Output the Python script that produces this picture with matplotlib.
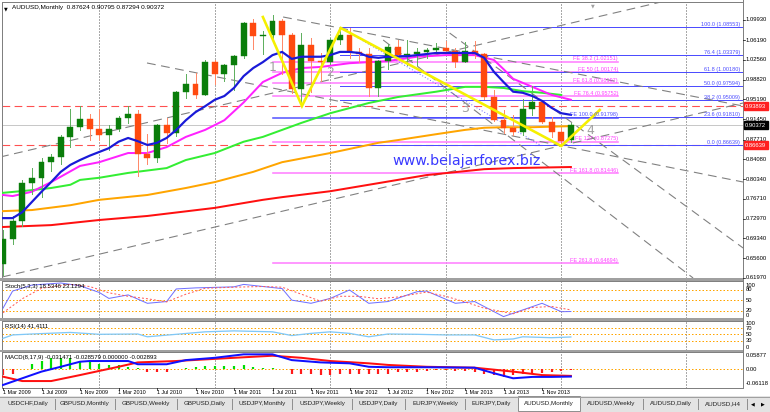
import matplotlib
matplotlib.use('Agg')
import matplotlib.pyplot as plt
import matplotlib.transforms as mtrans
from matplotlib.patches import Rectangle
from matplotlib.lines import Line2D

plt.rcParams['font.family'] = ['Liberation Sans', 'DejaVu Sans']

W, H = 770, 412
fig = plt.figure(figsize=(W / 100, H / 100), dpi=100)
fig.patch.set_facecolor('white')


def axpx(x0, y0, x1, y1, **kw):
    return fig.add_axes([x0 / W, 1 - y1 / H, (x1 - x0) / W, (y1 - y0) / H], **kw)


# ---------------- data (monthly bars, Mar 2009 .. Feb 2014) ----------------
opens = [0.6460, 0.6930, 0.7255, 0.7970, 0.8060, 0.8350, 0.8450, 0.8810, 0.9000, 0.9150,
         0.8975, 0.8850, 0.8975, 0.9170, 0.9250, 0.8510, 0.8430, 0.9040, 0.8890, 0.9660,
         0.9810, 0.9600, 1.0220, 0.9980, 1.0160, 1.0330, 1.0940, 1.0700, 1.0720, 1.0980,
         1.0710, 0.9710, 1.0530, 1.0230, 1.0220, 1.0620, 1.0710, 1.0400, 1.0360, 0.9720,
         1.0230, 1.0500, 1.0340, 1.0370, 1.0400, 1.0440, 1.0470, 1.0410, 1.0220, 1.0410,
         1.0360, 0.9560, 0.9140, 0.8990, 0.8920, 0.9330, 0.9460, 0.9100, 0.8920, 0.87624]
highs = [0.7080, 0.7350, 0.8010, 0.8235, 0.8420, 0.8510, 0.8860, 0.9330, 0.9400, 0.9240,
         0.9330, 0.9040, 0.9200, 0.9400, 0.9320, 0.8880, 0.9060, 0.9170, 0.9680, 0.9990,
         1.0000, 1.0250, 1.0255, 1.0180, 1.0340, 1.0950, 1.1010, 1.0780, 1.1080, 1.1010,
         1.0760, 1.0760, 1.0660, 1.0380, 1.0650, 1.0855, 1.0850, 1.0480, 1.0475, 1.0255,
         1.0550, 1.0620, 1.0620, 1.0480, 1.0480, 1.0560, 1.0600, 1.0480, 1.0580, 1.0600,
         1.0380, 0.9700, 0.9320, 0.9230, 0.9530, 0.9760, 0.9490, 0.9190, 0.8990, 0.90795]
lows = [0.6250, 0.6830, 0.7160, 0.7760, 0.7700, 0.8180, 0.8320, 0.8630, 0.8950, 0.8770,
        0.8770, 0.8580, 0.8930, 0.9080, 0.8090, 0.8320, 0.8360, 0.8700, 0.8830, 0.9540,
        0.9540, 0.9600, 0.9800, 0.9850, 0.9700, 1.0290, 1.0450, 1.0360, 1.0580, 0.9990,
        0.9630, 0.9390, 0.9660, 0.9860, 1.0170, 1.0540, 1.0280, 1.0220, 0.9580, 0.9580,
        1.0080, 1.0330, 1.0150, 1.0150, 1.0280, 1.0380, 1.0380, 1.0120, 1.0220, 1.0290,
        0.9530, 0.9120, 0.8900, 0.8850, 0.8850, 0.9220, 0.9080, 0.8820, 0.8660, 0.87294]
closes = [0.6930, 0.7255, 0.7970, 0.8060, 0.8350, 0.8450, 0.8810, 0.9000, 0.9150, 0.8975,
          0.8850, 0.8975, 0.9170, 0.9250, 0.8510, 0.8430, 0.9040, 0.8890, 0.9660, 0.9810,
          0.9600, 1.0220, 0.9980, 1.0160, 1.0330, 1.0940, 1.0700, 1.0720, 1.0980, 1.0710,
          0.9710, 1.0530, 1.0230, 1.0220, 1.0620, 1.0710, 1.0400, 1.0360, 0.9720, 1.0230,
          1.0500, 1.0340, 1.0370, 1.0400, 1.0440, 1.0470, 1.0410, 1.0220, 1.0410, 1.0360,
          0.9560, 0.9140, 0.8990, 0.8920, 0.9330, 0.9460, 0.9100, 0.8920, 0.8750, 0.90372]

time_labels = ["1 Mar 2009", "1 Jul 2009", "1 Nov 2009", "1 Mar 2010", "1 Jul 2010",
               "1 Nov 2010", "1 Mar 2011", "1 Jul 2011", "1 Nov 2011", "1 Mar 2012",
               "1 Jul 2012", "1 Nov 2012", "1 Mar 2013", "1 Jul 2013", "1 Nov 2013"]
time_label_bars = [0, 4, 8, 12, 16, 20, 24, 28, 32, 36, 40, 44, 48, 52, 56]
year_grid_bars = [10, 22, 34, 46, 58, 71]

price_ticks = [1.09930, 1.06190, 1.02560, 0.98820, 0.95190, 0.91450, 0.87710,
               0.84080, 0.80340, 0.76710, 0.72970, 0.69340, 0.65600, 0.61970]

# moving averages (bar index, price)
ma_blue_i = list(range(60))
ma_blue = [0.731, 0.731, 0.742, 0.761, 0.780, 0.798, 0.817, 0.830, 0.839, 0.847,
           0.854, 0.861, 0.873, 0.880, 0.874, 0.867, 0.871, 0.880, 0.895, 0.913,
           0.928, 0.939, 0.951, 0.958, 0.973, 0.995, 1.010, 1.021, 1.034, 1.040,
           1.027, 1.031, 1.031, 1.031, 1.034, 1.040, 1.040, 1.038, 1.031, 1.029,
           1.031, 1.031, 1.032, 1.034, 1.036, 1.038, 1.038, 1.038, 1.038, 1.038,
           1.029, 1.003, 0.984, 0.966, 0.964, 0.958, 0.949, 0.936, 0.926, 0.923]
ma_mag_i = [0, 1, 3, 5, 8, 10, 13, 15, 17, 19, 21, 23, 25, 27, 29, 31, 33, 36, 40, 43,
            46, 49, 51, 52, 53, 55, 57, 59]
ma_mag = [0.774, 0.772, 0.780, 0.798, 0.828, 0.835, 0.852, 0.852, 0.863, 0.882, 0.895,
          0.913, 0.946, 0.984, 1.001, 1.010, 1.012, 1.019, 1.023, 1.031, 1.034, 1.034,
          1.025, 1.008, 0.990, 0.975, 0.960, 0.951]
ma_grn_i = [0, 3, 5, 7, 8, 10, 13, 17, 19, 22, 25, 27, 31, 34, 38, 41, 45, 48, 50, 52, 54, 56, 58]
ma_grn = [0.778, 0.783, 0.787, 0.793, 0.802, 0.806, 0.815, 0.824, 0.839, 0.852, 0.873,
          0.882, 0.908, 0.926, 0.945, 0.956, 0.966, 0.975, 0.975, 0.973, 0.967, 0.964, 0.960]
ma_org_i = [0, 3, 7, 10, 15, 19, 22, 26, 29, 34, 39, 41, 45, 48, 50, 52, 55, 59]
ma_org = [0.744, 0.746, 0.755, 0.765, 0.774, 0.787, 0.798, 0.817, 0.835, 0.852, 0.871,
          0.876, 0.887, 0.895, 0.899, 0.900, 0.900, 0.902]
ma_red_i = [0, 5, 10, 15, 22, 27, 29, 34, 39, 44, 50, 53, 59]
ma_red = [0.7145, 0.718, 0.7275, 0.735, 0.750, 0.765, 0.770, 0.781, 0.796, 0.811, 0.822,
          0.824, 0.826]

# drawn objects: trend lines (i0, p0, i1, p1)
trend_lines = [(-0.1, 0.6215, 76.9, 0.9450),
               (-0.3, 0.8446, 76.9, 1.1686),
               (14.96, 1.0194, 76.9, 0.7981),
               (29.1, 1.1049, 76.9, 0.9394),
               (39.5, 1.0621, 71.7, 0.6197),
               (46.4, 1.0751, 76.9, 0.6754)]
pitch_line = (35.5, 1.0807, 55.8, 0.8669)
zigzag_i = [27.0, 31.06, 35.1, 58.0, 62.0]
zigzag_p = [1.1049, 0.9394, 1.0844, 0.8651, 0.9320]
wave_labels = ["1", "2", "3", "4"]
wave_i = [28.05, 34.0, 48.0, 61.0]
wave_p = [1.0101, 1.0008, 0.9357, 0.8948]

fib_labels = ["100.0", "76.4", "61.8", "50.0", "38.2", "23.6", "0.0"]
fib_prices = [1.08553, 1.03379, 1.00180, 0.97594, 0.95009, 0.91810, 0.86639]
fib_start = 35.0
fe_labels = ["38.2", "50", "61.8", "76.4", "100.0", "127", "161.8", "261.8"]
fe_prices = [1.02151, 1.00174, 0.98197, 0.95752, 0.91798, 0.87275, 0.81446, 0.64694]
fe_start, fe_end = 28.05, 63.9

hlines_red = [0.93893, 0.86639]
bid = 0.90372

# indicators
stoch_i = [0, 1, 3, 6, 8, 10, 11, 13, 15, 17, 18, 20, 24, 25, 29, 30, 32, 34, 36, 38, 40,
           43, 44, 47, 49, 52, 54, 56, 58, 59]
stoch_main = [28, 77, 94, 100, 92, 73, 56, 66, 42, 47, 83, 86, 89, 96, 84, 51, 42, 56, 80,
              42, 47, 75, 77, 42, 47, 4, 23, 42, 18, 18.5]
stoch_sig_i = [0, 2, 4, 7, 9, 11, 13, 15, 17, 19, 21, 24, 27, 29, 31, 33, 35, 37, 39, 41,
               44, 46, 48, 50, 53, 55, 57, 59]
stoch_sig = [15, 55, 85, 96, 90, 72, 62, 55, 46, 68, 85, 88, 90, 88, 68, 48, 62, 62, 55, 60,
             74, 62, 46, 28, 12, 30, 33, 23.1]
rsi_i = [0, 1, 3, 7, 10, 14, 15, 18, 21, 24, 28, 30, 32, 34, 36, 38, 40, 43, 46, 49, 51,
         53, 54, 57, 59]
rsi_v = [37, 48, 51, 56, 50, 51, 42, 50, 58, 61, 58, 46, 53, 58, 53, 42, 51, 50, 48, 48,
         32, 35, 42, 39, 41.4]
macd_i = [0, 2, 4, 6, 8, 9, 13, 14, 17, 19, 22, 25, 28, 30, 33, 36, 38, 40, 44, 49, 51,
          53, 55, 57, 59]
macd_main = [-0.068, -0.039, -0.010, 0.011, 0.033, 0.036, 0.036, 0.022, 0.022, 0.040,
             0.050, 0.065, 0.065, 0.040, 0.030, 0.026, 0.011, 0.009, 0.009, 0.007,
             -0.017, -0.039, -0.033, -0.033, -0.0315]
macd_sig_i = [0, 2, 5, 8, 12, 14, 18, 24, 28, 31, 34, 38, 40, 44, 49, 53, 56, 59]
macd_sig = [-0.032, -0.051, -0.051, -0.025, 0.011, 0.030, 0.036, 0.050, 0.059, 0.050,
            0.036, 0.026, 0.019, 0.011, 0.007, -0.010, -0.025, -0.0286]
macd_hist = [-0.025, -0.022, 0.000, 0.022, 0.036, 0.048, 0.050, 0.048, 0.036, 0.030,
             0.022, 0.019, 0.019, 0.010, 0.004, -0.013, -0.010, -0.010, 0.003, 0.007,
             0.010, 0.016, 0.016, 0.016, 0.016, 0.019, 0.011, 0.007, 0.004, 0.003,
             -0.019, -0.021, -0.022, -0.025, -0.025, -0.021, -0.019, -0.019, -0.022, -0.021,
             -0.019, -0.010, -0.010, -0.010, -0.006, -0.003, -0.003, -0.007, -0.007, -0.010,
             -0.019, -0.025, -0.032, -0.025, -0.022, -0.019, -0.015, -0.010, -0.007, -0.003]

tabs = ["USDCHF,Daily", "GBPUSD,Monthly", "GBPUSD,Weekly", "GBPUSD,Daily", "USDJPY,Monthly",
        "USDJPY,Weekly", "USDJPY,Daily", "EURJPY,Weekly", "EURJPY,Daily", "AUDUSD,Monthly",
        "AUDUSD,Weekly", "AUDUSD,Daily", "AUDUSD,H4"]
tab_edges = [0, 55, 115, 177, 232, 292, 352, 405, 465, 518, 580, 643, 698, 747]
active_tab = 9

# ---------------- layout ----------------
XL = ((2 - 3) / 9.625, (743 - 3) / 9.625)
PX = 0.72  # one pixel in points

ax = axpx(2, 2, 743, 278)
ax_st = axpx(2, 281, 743, 318)
ax_rsi = axpx(2, 321, 743, 350)
ax_md = axpx(2, 352, 743, 388)

for a in (ax, ax_st, ax_rsi, ax_md):
    a.set_xlim(*XL)
    a.set_xticks([])
    a.set_yticks([])
    for s in a.spines.values():
        s.set_color('#808080')
        s.set_linewidth(PX)
    for g in year_grid_bars:
        a.axvline(g, color='#555555', lw=PX, ls=(0, (1, 2)), zorder=1)

ax.set_ylim(0.61968, 1.13276)
ax_st.set_ylim(0, 105.7)
ax_rsi.set_ylim(-0.6, 92.9)
ax_md.set_ylim(-0.0812, 0.0752)

# separators
for (y0, y1) in [(278, 281), (318, 321), (350, 352)]:
    fig.patches.append(Rectangle((0, 1 - y1 / H), 743 / W, (y1 - y0) / H,
                                 transform=fig.transFigure, facecolor='#a0a0a0',
                                 edgecolor='none', zorder=5))
fig.lines.append(Line2D([743 / W, 743 / W], [1 - 388 / H, 1], transform=fig.transFigure,
                        color='#808080', lw=PX))

# ---------------- main chart ----------------
# red horizontal dashed lines and bid line
for p in hlines_red:
    ax.axhline(p, color='#ff5050', lw=PX * 1.1, ls=(0, (7, 4)), zorder=2)
ax.axhline(bid, color='#c8c8c8', lw=PX, zorder=1.5)

# fib expansion
for lab, p in zip(fe_labels, fe_prices):
    col = '#5a5aff' if lab == "100.0" else '#ff80ff'
    ax.plot([fe_start, fe_end], [p, p], color=col, lw=PX * 1.6, zorder=2)
    ax.text(fe_end, p + 0.001, "FE %s (%.5f)" % (lab, p), color='#ff40ff' if lab != "100.0" else '#4d4dff',
            fontsize=4.0, ha='right', va='bottom', zorder=6)
# fib retracement
for lab, p in zip(fib_labels, fib_prices):
    ax.plot([fib_start, XL[1]], [p, p], color='#4d4dff', lw=PX, zorder=2.2)
    ax.text(76.6, p + 0.001, "%s (%.5f)" % (lab, p), color='#4d4dff', fontsize=4.0,
            ha='right', va='bottom', zorder=6)

# trend lines
for (i0, p0, i1, p1) in trend_lines:
    ax.plot([i0, i1], [p0, p1], color='#808080', lw=PX * 1.1, ls=(0, (8, 5)), zorder=2.5)
ax.plot([pitch_line[0], pitch_line[2]], [pitch_line[1], pitch_line[3]], color='#6a6aff',
        lw=PX, ls=(0, (1, 2)), zorder=2.5)

# moving averages
ax.plot(ma_red_i, ma_red, color='#ff1010', lw=PX * 2, zorder=3)
ax.plot(ma_org_i, ma_org, color='#ffa500', lw=PX * 2, zorder=3)
ax.plot(ma_grn_i, ma_grn, color='#33ee33', lw=PX * 2, zorder=3)
ax.plot(ma_mag_i, ma_mag, color='#ff22ff', lw=PX * 2, zorder=3)

# candles
for i, (o, h, l, c) in enumerate(zip(opens, highs, lows, closes)):
    col = '#0a7d0a' if c >= o else '#ff4a10'
    wcol = '#60b060' if c >= o else '#ff8a6a'
    ax.plot([i, i], [l, h], color=wcol, lw=PX, zorder=3.5)
    lo = min(o, c)
    hgt = max(abs(c - o), 0.0015)
    ax.add_patch(Rectangle((i - 0.31, lo), 0.62, hgt, facecolor=col, edgecolor=col,
                           lw=0.3, zorder=4))

ax.plot(ma_blue_i, ma_blue, color='#1a1ad8', lw=PX * 2.2, zorder=4.5)

# zigzag
ax.plot(zigzag_i, zigzag_p, color='#f5f000', lw=PX * 2.6, zorder=4.6, solid_joinstyle='miter')
for s, i, p in zip(wave_labels, wave_i, wave_p):
    ax.text(i, p, s, color='#a0a0a0', fontsize=9, ha='center', va='center', zorder=4.7,
            family='DejaVu Sans')

ax.text((392 - 3) / 9.625, 0.8372, "www.belajarforex.biz", color='#3a3aff', fontsize=10.3,
        family='DejaVu Sans', ha='left', va='center', zorder=6)

# header
ax.text(0.003, 0.985, "\u25BC", transform=ax.transAxes, fontsize=3.5, va='top', ha='left',
        family='DejaVu Sans')
ax.text(0.014, 0.988, "AUDUSD,Monthly  %.5f %.5f %.5f %.5f" % (opens[-1], highs[-1], lows[-1], closes[-1]),
        transform=ax.transAxes, fontsize=4.6, va='top', ha='left')
ax.text((593 - 3) / 9.625, 0.995, "\u25BC", transform=mtrans.blended_transform_factory(ax.transData, ax.transAxes),
        fontsize=3.5, color='#a0a0a0', ha='center', va='top', family='DejaVu Sans')

# price axis
bt = mtrans.blended_transform_factory(fig.transFigure, ax.transData)
for p in price_ticks:
    fig.text(746 / W, 0, "%.5f" % p, transform=bt, fontsize=4.2, va='center', ha='left')
    fig.lines.append(Line2D([743 / W, 745 / W], [p, p], transform=bt, color='black', lw=PX * 0.7))
    fig.texts[-1].set_y(p)
for p, fc in [(hlines_red[0], '#ff2020'), (bid, '#000000'), (hlines_red[1], '#ff2020')]:
    t = fig.text(745 / W, p, "%.5f" % p, transform=bt, fontsize=4.2, va='center', ha='left',
                 color='white', zorder=10,
                 bbox=dict(boxstyle='square,pad=0.25', facecolor=fc, edgecolor=fc))

# ---------------- stochastic ----------------
for lv in (20, 50, 80):
    ax_st.axhline(lv, color='#ffa500', lw=PX, ls=(0, (1.5, 2)), zorder=1)
ax_st.plot(stoch_i, stoch_main, color='#7070ff', lw=PX, zorder=3)
ax_st.plot(stoch_sig_i, stoch_sig, color='#ff5a5a', lw=PX, ls=(0, (2, 2)), zorder=3)
ax_st.text(0.004, 0.93, "Stoch(5,3,3) 18.5346 23.1294", transform=ax_st.transAxes,
           fontsize=4.3, va='top', ha='left')
bts = mtrans.blended_transform_factory(fig.transFigure, ax_st.transData)
for lv, va in [(100, 'top'), (80, 'center'), (50, 'center'), (20, 'center'), (0, 'bottom')]:
    fig.text(746 / W, lv, str(lv), transform=bts, fontsize=4.2, va=va, ha='left')

# ---------------- RSI ----------------
for lv in (30, 50, 70):
    ax_rsi.axhline(lv, color='#ffa500', lw=PX, ls=(0, (1.5, 2)), zorder=1)
ax_rsi.plot(rsi_i, rsi_v, color='#80c8f8', lw=PX * 1.3, zorder=3)
ax_rsi.text(0.004, 0.9, "RSI(14) 41.4111", transform=ax_rsi.transAxes, fontsize=4.3,
            va='top', ha='left')
btr = mtrans.blended_transform_factory(fig.transFigure, ax_rsi.transData)
for lv, va in [(100, 'top'), (70, 'center'), (50, 'center'), (30, 'center'), (0, 'bottom')]:
    fig.text(746 / W, min(lv, 92), str(lv), transform=btr, fontsize=4.2, va=va, ha='left')

# ---------------- MACD ----------------
ax_md.axhline(0, color='#ffa500', lw=PX, ls=(0, (1.5, 2)), zorder=1)
for i, v in enumerate(macd_hist):
    if v != 0:
        ax_md.plot([i, i], [0, v], color='#00dd00' if v > 0 else '#ff1a1a', lw=PX * 2.2,
                   solid_capstyle='butt', zorder=2)
ax_md.plot(macd_sig_i, macd_sig, color='#ff1010', lw=PX * 2, zorder=3)
ax_md.plot(macd_i, macd_main, color='#1010ff', lw=PX * 2, zorder=3.2)
ax_md.text(0.004, 0.93, "MACD(8,17,9) -0.031471 -0.028579 0.000000 -0.002893",
           transform=ax_md.transAxes, fontsize=4.3, va='top', ha='left')
btm = mtrans.blended_transform_factory(fig.transFigure, ax_md.transData)
for lv, s in [(0.05877, "0.05877"), (0.0, "0.00"), (-0.06118, "-0.06118")]:
    fig.text(746 / W, lv, s, transform=btm, fontsize=4.2, va='center', ha='left')

# ---------------- time axis ----------------
btt = mtrans.blended_transform_factory(ax_md.transData, fig.transFigure)
for b, s in zip(time_label_bars, time_labels):
    fig.text(b, 1 - 393 / H, s, transform=btt, fontsize=3.9, ha='left', va='center')
    fig.lines.append(Line2D([b, b], [1 - 388 / H, 1 - 390 / H], transform=btt, color='black', lw=PX * 0.7))

# ---------------- tab bar ----------------
axt = axpx(0, 396, 770, 412)
axt.set_xlim(0, 770)
axt.set_ylim(16, 0)
axt.axis('off')
axt.add_patch(Rectangle((0, 0), 770, 16, facecolor='#e3e3e3', edgecolor='none'))
axt.plot([0, 770], [0.5, 0.5], color='#a0a0a0', lw=PX)
for k, name in enumerate(tabs):
    x0, x1 = tab_edges[k], tab_edges[k + 1]
    if k == active_tab:
        axt.add_patch(Rectangle((x0, 0), x1 - x0, 14.5, facecolor='white', edgecolor='#909090', lw=PX))
    else:
        axt.plot([x1, x1], [3, 13], color='#909090', lw=PX)
    axt.text((x0 + x1) / 2, 7.5, name, fontsize=4.5, ha='center', va='center',
             color='#202020', clip_on=True)
axt.text(753, 7.5, "\u25C0", fontsize=3.5, ha='center', va='center', family='DejaVu Sans')
axt.text(763, 7.5, "\u25B6", fontsize=3.5, ha='center', va='center', family='DejaVu Sans')

fig.savefig('out.png', dpi=100, facecolor='white')
